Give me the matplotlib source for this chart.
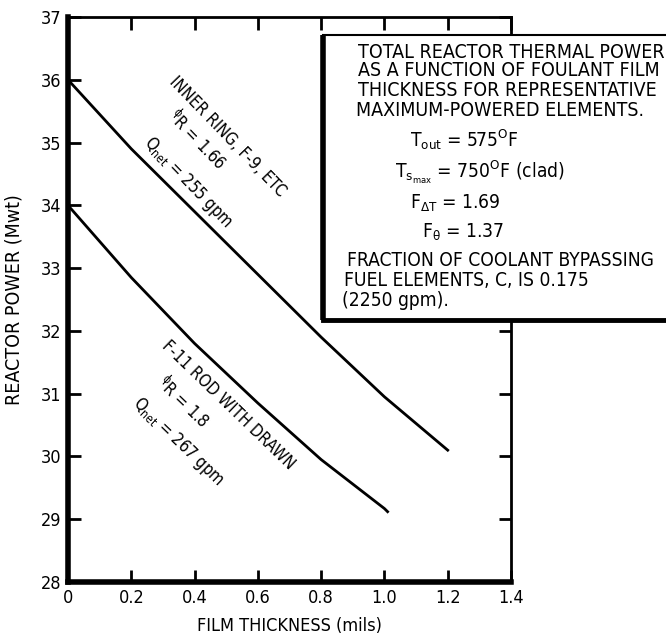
import matplotlib
matplotlib.use("Agg")
import matplotlib.pyplot as plt
from matplotlib.patches import Rectangle
from matplotlib.lines import Line2D

plt.rcParams['font.family'] = ['DejaVu Sans']
plt.rcParams['font.stretch'] = 'condensed'
plt.rcParams['mathtext.fontset'] = 'custom'
plt.rcParams['mathtext.rm'] = 'DejaVu Sans:stretch=condensed'
plt.rcParams['mathtext.it'] = 'DejaVu Sans:stretch=condensed:style=oblique'
plt.rcParams['mathtext.default'] = 'regular'

# Data
inner_x = [0.0, 0.2, 0.4, 0.6, 0.8, 1.0, 1.2]
inner_y = [36.0, 34.9, 33.9, 32.9, 31.9, 30.95, 30.1]
rod_x = [0.0, 0.2, 0.4, 0.6, 0.8, 1.0, 1.01]
rod_y = [34.0, 32.85, 31.8, 30.85, 29.95, 29.17, 29.12]
xticks = [0, 0.2, 0.4, 0.6, 0.8, 1.0, 1.2, 1.4]
xticklabels = ['0', '0.2', '0.4', '0.6', '0.8', '1.0', '1.2', '1.4']
yticks = [28, 29, 30, 31, 32, 33, 34, 35, 36, 37]

W, H = 666, 637
fig = plt.figure(figsize=(W / 100, H / 100), dpi=100)
ax = fig.add_axes([68 / W, 1 - 582 / H, (511 - 68) / W, (582 - 17) / H])

ax.plot(inner_x, inner_y, color='black', lw=2.0)
ax.plot(rod_x, rod_y, color='black', lw=2.0)

ax.set_xlim(0, 1.4)
ax.set_ylim(28, 37)
ax.set_xticks(xticks)
ax.set_xticklabels(xticklabels)
ax.set_yticks(yticks)
ax.tick_params(direction='in', length=9, width=2, top=True, right=True,
               labelsize=13, pad=5)
for s in ['left', 'bottom']:
    ax.spines[s].set_linewidth(4)
for s in ['top', 'right']:
    ax.spines[s].set_linewidth(2)

ax.set_xlabel('FILM THICKNESS (mils)', fontsize=13, labelpad=7)
ax.set_ylabel('REACTOR POWER (Mwt)', fontsize=14, labelpad=12)

kw = dict(rotation_mode='anchor', ha='center', va='center', fontsize=12)
ax.text(0.503, 35.09, 'INNER RING, F-9, ETC', rotation=-46, **kw)
ax.text(0.408, 35.04, r'$^{\phi}$R = 1.66', rotation=-46, **kw)
ax.text(0.379, 34.36, r'Q$_{net}$ = 255 gpm', rotation=-46, **kw)
ax.text(0.506, 30.82, 'F-11 ROD WITH DRAWN', rotation=-44, **kw)
ax.text(0.363, 30.87, r'$^{\phi}$R = 1.8', rotation=-44, **kw)
ax.text(0.348, 30.23, r'Q$_{net}$ = 267 gpm', rotation=-44, **kw)

# Info box
x0, y0, y1 = 323 / W, 1 - 320 / H, 1 - 35 / H
box = Rectangle((x0, y0), 1.1 - x0, y1 - y0, transform=fig.transFigure,
                facecolor='white', edgecolor='none', zorder=10, clip_on=False)
fig.patches.append(box)
fig.lines.append(Line2D([x0, x0], [y0, y1], transform=fig.transFigure,
                        color='black', lw=4, zorder=11, solid_capstyle='butt'))
fig.lines.append(Line2D([x0, 1.0], [y0, y0], transform=fig.transFigure,
                        color='black', lw=3.5, zorder=11, solid_capstyle='projecting'))
fig.lines.append(Line2D([x0, 1.0], [y1, y1], transform=fig.transFigure,
                        color='black', lw=1.5, zorder=11))


def ft(px, py, s, fs=13.8):
    fig.text(px / W, 1 - py / H, s, zorder=12, va='center', ha='left', fontsize=fs)


ft(358, 53, 'TOTAL REACTOR THERMAL POWER', 14)
ft(358, 71, 'AS A FUNCTION OF FOULANT FILM', 14)
ft(358, 90, 'THICKNESS FOR REPRESENTATIVE', 14)
ft(356, 110, 'MAXIMUM-POWERED ELEMENTS.', 14)
ft(410, 140, r'T$_{out}$ = 575$^{O}$F')
ft(395, 172, r'T$_{s_{max}}$ = 750$^{O}$F (clad)')
ft(410, 203, r'F$_{\Delta T}$ = 1.69')
ft(422, 232, r'F$_{\theta}$ = 1.37')
ft(347, 260, 'FRACTION OF COOLANT BYPASSING')
ft(344, 281, 'FUEL ELEMENTS, C, IS 0.175')
ft(342, 300, '(2250 gpm).')

fig.savefig('out.png', dpi=100)
